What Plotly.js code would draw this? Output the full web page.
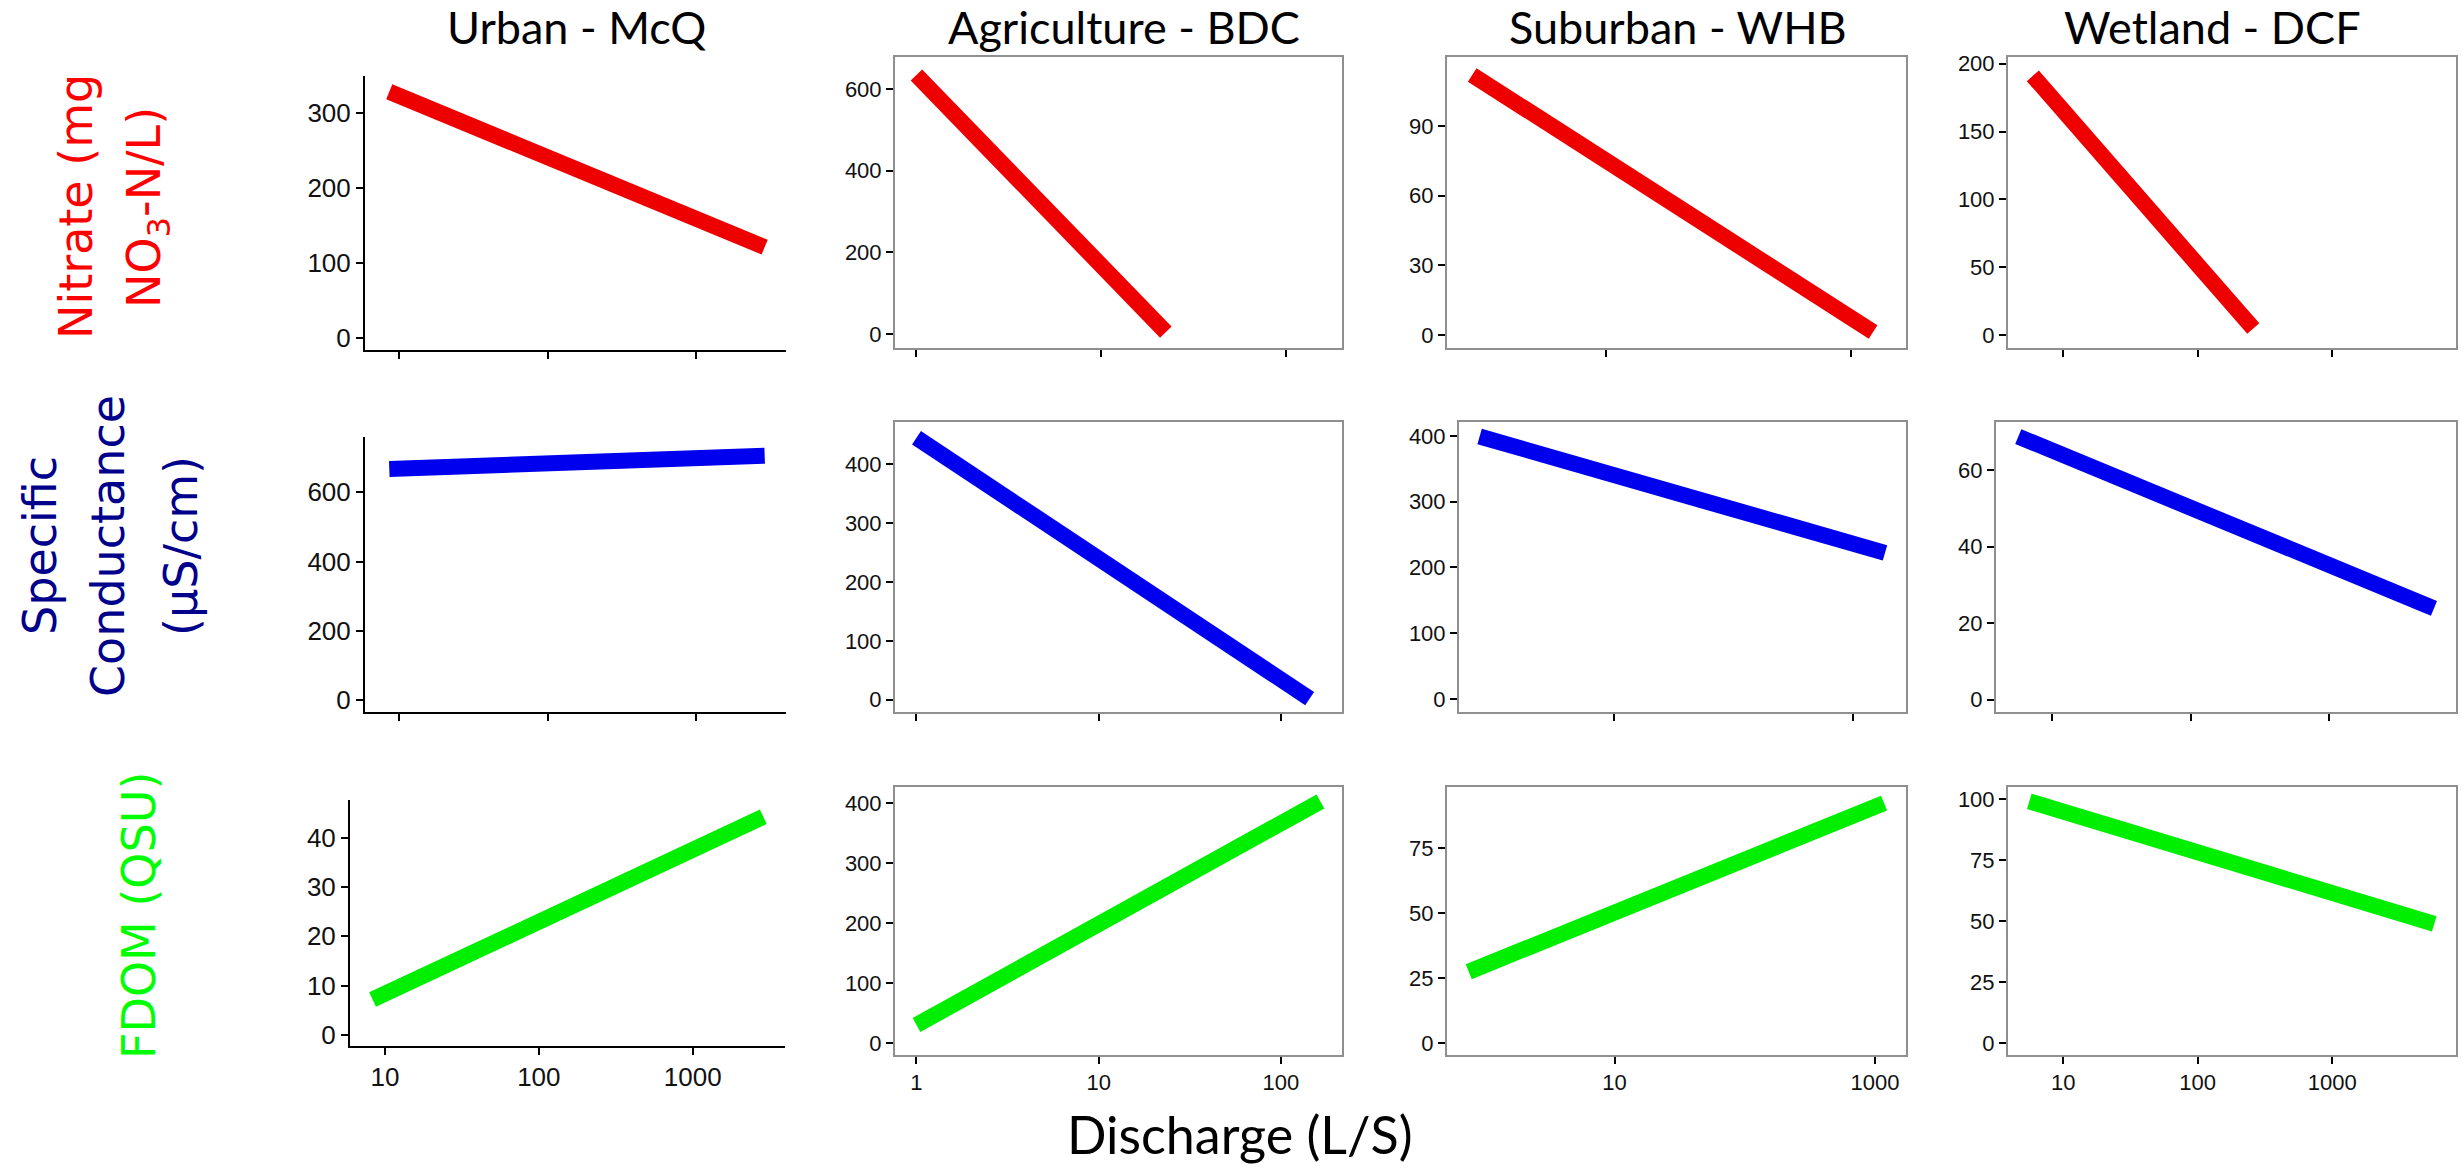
<!DOCTYPE html>
<html><head><meta charset="utf-8">
<script src="https://cdn.plot.ly/plotly-3.0.1.min.js"></script>
<style>html,body{margin:0;padding:0;background:#fff;} #chart{width:2463px;height:1170px;}</style>
</head><body><div id="chart"></div>
<script>
// ---------------- data ----------------
const sites = ["Urban - McQ", "Agriculture - BDC", "Suburban - WHB", "Wetland - DCF"];
// discharge (L/S) at the two ends of each fitted line, and the fitted values there
const nitrateQ = [[8.6, 2900], [1, 22.4], [0.805, 1514], [5.95, 259]];
const nitrate  = [[328, 121], [634, 5], [112, 1.4], [191, 4.9]];
const condQ    = [[8.6, 2900], [1, 144], [0.746, 1866], [5.7, 5700]];
const cond     = [[667, 705], [445, 2], [399, 222], [68.8, 23.9]];
const fdomQ    = [[8.3, 2877], [1, 165], [0.76, 1173], [5.6, 5730]];
const fdom     = [[7.2, 44.2], [30.5, 402.7], [27.5, 92.3], [99, 48.9]];
// tick labels
const xTicks = [[10, 100, 1000], [1, 10, 100], [10, 1000], [10, 100, 1000]];
const yTicks = [
  [[0, 100, 200, 300], [0, 200, 400, 600], [0, 30, 60, 90], [0, 50, 100, 150, 200]],
  [[0, 200, 400, 600], [0, 100, 200, 300, 400], [0, 100, 200, 300, 400], [0, 20, 40, 60]],
  [[0, 10, 20, 30, 40], [0, 100, 200, 300, 400], [0, 25, 50, 75], [0, 25, 50, 75, 100]]
];
const rowLabels = [["Nitrate (mg", "NO<sub>3</sub>-N/L)"], ["Specific", "Conductance", "(µS/cm)"], ["FDOM (QSU)"]];
const xLabel = "Discharge (L/S)";

// ---------------- layout geometry (px) ----------------
const W = 2463, H = 1170;
const geom = [ // [left, right, top, bottom]
  [[365, 786, 76, 350], [895, 1342, 57, 348], [1447, 1906, 57, 348], [2008, 2456, 57, 348]],
  [[365, 786, 437, 712], [895, 1342, 422, 712], [1459, 1906, 422, 712], [1996, 2456, 422, 712]],
  [[350, 785, 800, 1046], [895, 1342, 787, 1055], [1447, 1906, 787, 1055], [2008, 2456, 787, 1055]]
];
const xr = [
  [[0.771, 3.606], [-0.116, 2.304], [-0.300, 3.449], [0.59, 3.92]],
  [[0.771, 3.606], [-0.118, 2.336], [-0.300, 3.447], [0.595, 3.915]],
  [[0.7725, 3.60], [-0.118, 2.336], [-0.286, 3.238], [0.59, 3.92]]
];
const yr = [
  [[-16, 349], [-34, 678], [-5.5, 119.7], [-9.4, 204.9]],
  [[-33.8, 759], [-20.8, 471.7], [-19.8, 421], [-3.2, 72.6]],
  [[-2.2, 47.6], [-19.5, 426.7], [-4.5, 98.5], [-4.8, 104.9]]
];
const rowQ = [nitrateQ, condQ, fdomQ];
const rowV = [nitrate, cond, fdom];
const lineColors = ["#ee0000", "#0000ee", "#00ee00"];
const labelColors = ["#ff0000", "#00008b", "#00ff00"];

const traces = [];
const layout = {
  width: W, height: H,
  margin: {l: 0, r: 0, t: 0, b: 0},
  paper_bgcolor: "#ffffff", plot_bgcolor: "#ffffff",
  showlegend: false,
  annotations: []
};

for (let r = 0; r < 3; r++) {
  for (let c = 0; c < 4; c++) {
    const i = r * 4 + c;
    const xa = i === 0 ? "x" : "x" + (i + 1);
    const ya = i === 0 ? "y" : "y" + (i + 1);
    const g = geom[r][c];
    traces.push({
      type: "scatter", mode: "lines",
      x: rowQ[r][c], y: rowV[r][c],
      xaxis: xa, yaxis: ya,
      line: {color: lineColors[r], width: 16},
      hoverinfo: "skip"
    });
    const first = c === 0;
    const tickFont = {family: "Liberation Sans, Arial, sans-serif", size: first ? 26 : 22, color: "#111"};
    const common = {
      showgrid: false, zeroline: false, showline: true,
      linecolor: first ? "#000000" : "#8f8f8f",
      linewidth: 2,
      mirror: !first,
      ticks: "outside", ticklen: 7, tickwidth: 2, tickcolor: "#000000",
      tickfont: tickFont, fixedrange: true
    };
    layout["xaxis" + (i === 0 ? "" : i + 1)] = Object.assign({}, common, {
      type: "log",
      domain: [g[0] / W, g[1] / W],
      range: xr[r][c],
      anchor: ya,
      tickmode: "array",
      tickvals: xTicks[c],
      ticktext: xTicks[c].map(String),
      showticklabels: r === 2
    });
    layout["yaxis" + (i === 0 ? "" : i + 1)] = Object.assign({}, common, {
      domain: [1 - g[3] / H, 1 - g[2] / H],
      range: yr[r][c],
      anchor: xa,
      tickmode: "array",
      tickvals: yTicks[r][c],
      ticktext: yTicks[r][c].map(String)
    });
  }
}

// column titles
const titleX = [576, 1124, 1678, 2212];
sites.forEach((s, c) => layout.annotations.push({
  text: s, xref: "paper", yref: "paper", x: titleX[c] / W, y: 1 - 27 / H,
  xanchor: "center", yanchor: "middle", showarrow: false,
  font: {family: "Lato, Open Sans, sans-serif", size: 45, color: "#000"}
}));

// row labels (rotated)
const rowLabelPos = [
  [[76, 207], [147, 208]],
  [[40, 546], [108, 546], [181, 546]],
  [[139, 916]]
];
rowLabels.forEach((lines, r) => lines.forEach((t, k) => layout.annotations.push({
  text: t, xref: "paper", yref: "paper",
  x: rowLabelPos[r][k][0] / W, y: 1 - rowLabelPos[r][k][1] / H,
  xanchor: "center", yanchor: "middle", showarrow: false, textangle: -90,
  font: {family: "DejaVu Sans, Verdana, sans-serif", size: 46, color: labelColors[r]}
})));

// x label
layout.annotations.push({
  text: xLabel, xref: "paper", yref: "paper", x: 1240 / W, y: 1 - 1134 / H,
  xanchor: "center", yanchor: "middle", showarrow: false,
  font: {family: "Lato, Open Sans, sans-serif", size: 52, color: "#000"}
});

Plotly.newPlot("chart", traces, layout, {displayModeBar: false, staticPlot: true});
</script>
</body></html>
